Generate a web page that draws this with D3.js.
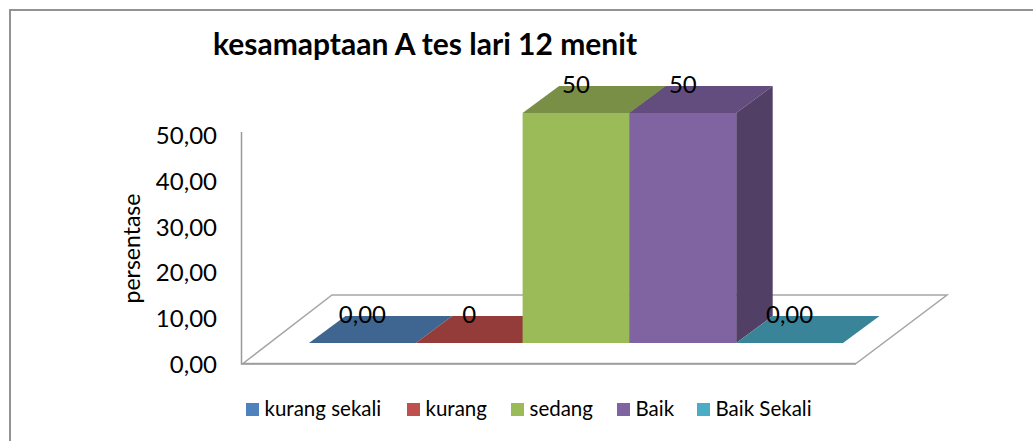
<!DOCTYPE html>
<html><head><meta charset="utf-8">
<script src="https://cdn.jsdelivr.net/npm/d3@7"></script>
<style>html,body{margin:0;background:#fff}svg{display:block}text{font-family:Lato,"Open Sans",sans-serif;fill:#000}</style>
</head><body><svg id="c" width="1033" height="441"></svg>
<script>
const categories = ["kurang sekali","kurang","sedang","Baik","Baik Sekali"];
const values = [0,0,50,50,0];
const valueLabels = ["0,00","0","50","50","0,00"];
const colors = ["#4f81bd","#c0504d","#9bbb59","#8064a2","#4bacc6"];
const topColors = ["#3f6591","#943c3a","#7a8f46","#634d7e","#3a8499"];
const sideColors = ["#2f4b6e","#6f2e2c","#5c6c35","#523f66","#2c6474"];
const yTicks = [0,10,20,30,40,50];
const title = "kesamaptaan A tes lari 12 menit";
const yTitle = "persentase";

const svg = d3.select("#c");
const dx = 36.5, dy = -27, bottom = 343;
const x = d3.scaleBand().domain(categories).range([309,843]);
const y = d3.scaleLinear().domain([0,50]).range([bottom,113]);
const yLabels = d3.scaleLinear().domain([0,50]).range([364.2,134.8]);
const line = d3.line();
const frame = "#929292";

svg.append("path").attr("d","M10,441V10H1033").attr("fill","none").attr("stroke",frame).attr("stroke-width",2);

// floor
svg.append("path").attr("d",line([[243,363.5],[856,363.5],[947,295],[332,295]])+"Z")
  .attr("fill","#fff").attr("stroke","#a6a6a6").attr("stroke-width",1.5);
svg.append("path").attr("d","M241.5,132V364H856").attr("fill","none").attr("stroke","#9a9a9a").attr("stroke-width",1.5);

// y axis labels
const axis = d3.axisLeft(yLabels).tickValues(yTicks).tickSize(0).tickPadding(0)
  .tickFormat(d=>d3.format(".2f")(d).replace(".",","));
const ga = svg.append("g").attr("transform","translate(217,0)").call(axis);
ga.select(".domain").remove();
ga.selectAll("text").attr("font-size",24).attr("dy",null).attr("y",8.5);
svg.append("text").attr("transform","translate(140,248.5) rotate(-90)").attr("text-anchor","middle")
  .attr("font-size",23).text(yTitle);

// bars
const bars = svg.append("g").selectAll("g").data(categories).join("g");
bars.each(function(c,i){
  const g = d3.select(this), x0 = x(c), x1 = x0 + x.bandwidth(), yt = y(values[i]);
  g.append("path").attr("d",line([[x0,yt],[x1,yt],[x1+dx,yt+dy],[x0+dx,yt+dy]])+"Z").attr("fill",topColors[i]);
  if(values[i]>0){
    g.append("path").attr("d",line([[x1,yt],[x1+dx,yt+dy],[x1+dx,bottom+dy],[x1,bottom]])+"Z").attr("fill",sideColors[i]);
    g.append("rect").attr("x",x0).attr("y",yt).attr("width",x.bandwidth()).attr("height",bottom-yt).attr("fill",colors[i]);
  }
});
// value labels
svg.append("g").selectAll("text").data(categories).join("text")
  .attr("x",c=>x(c)+x.bandwidth()/2)
  .attr("y",(c,i)=>y(values[i])-20)
  .attr("text-anchor","middle").attr("font-size",24).text((c,i)=>valueLabels[i]);

// title
svg.append("text").attr("x",213).attr("y",55).attr("font-size",30).attr("font-weight",700).text(title);

// legend
const legendX = [246,407,511,617,697];
const lg = svg.append("g").selectAll("g").data(categories).join("g").attr("transform",(c,i)=>`translate(${legendX[i]},403)`);
lg.append("rect").attr("width",13).attr("height",13).attr("fill",(c,i)=>colors[i]);
lg.append("text").attr("x",18.5).attr("y",13).attr("font-size",20.5).text(c=>c);
</script></body></html>
